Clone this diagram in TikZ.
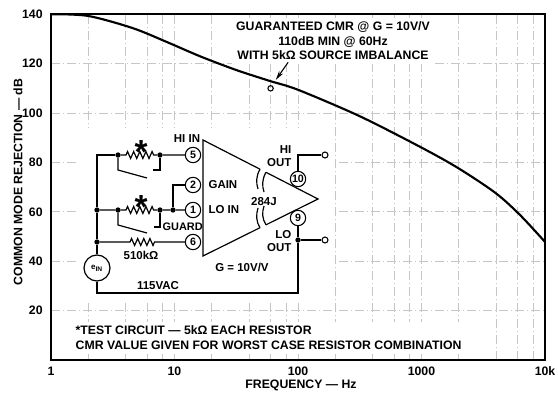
\documentclass[tikz,border=0pt]{standalone}
\usepackage{fontspec}
\setmainfont{Liberation Sans}
\usepackage{tikz}
\usetikzlibrary{arrows.meta,decorations.pathmorphing}
\tikzset{every node/.style={font=\fontsize{9.2}{11}\selectfont\bfseries},
    gridln/.style={gray!45,line width=0.5pt,dash pattern=on 7pt off 2pt on 1pt off 2pt},
    wire/.style={line width=0.9pt},
    zz/.style={decoration={zigzag,segment length=4.6pt,amplitude=2.6pt}},
    dot/.style={circle,fill,inner sep=0pt,minimum size=4pt},
    jack/.style={circle,draw,fill=white,line width=0.8pt,inner sep=0pt,minimum size=4.5pt},
    term/.style={circle,draw,line width=0.8pt,inner sep=0pt,minimum size=11.5pt,
        font=\fontsize{8}{8}\selectfont\bfseries},
    lbl/.style={font=\fontsize{8.6}{9.5}\selectfont\bfseries,inner sep=1pt},
    astx/.style={font=\fontsize{25}{25}\selectfont\bfseries,inner sep=0pt}}

\begin{document}
\begin{tikzpicture}[x=0.75pt,y=-0.75pt]
\useasboundingbox (0,0) rectangle (558,397);

% grid, decades along x, dB along y
\begin{scope}[shift={(51,360)},x=92.625pt,y=1.8525pt]
\foreach \d in {20,40,...,120}
    \draw[gridln] (0,\d) -- (4,\d);
\foreach \dec in {0,1,2,3}
    \foreach \m in {2,4,6,8}
        \draw[gridln] ({\dec+log10(\m)},0) -- ({\dec+log10(\m)},140);
\foreach \dec in {1,2,3}
    \draw[gridln] (\dec,0) -- (\dec,140);
\end{scope}

\fill[white] (78,128) rectangle (334,300);
\node[fill=white,align=center,font=\fontsize{9.2}{10.9}\selectfont\bfseries] (note) at (333,41)
    {GUARANTEED CMR @ G = 10V/V\\110dB MIN @ 60Hz\\WITH 5kΩ SOURCE IMBALANCE};
\node[fill=white,align=left,anchor=west,font=\fontsize{9.2}{11.2}\selectfont\bfseries] (foot) at (71,338)
    {*TEST CIRCUIT — 5kΩ EACH RESISTOR\\CMR VALUE GIVEN FOR WORST CASE RESISTOR COMBINATION};

% curve and frame
\begin{scope}[shift={(51,360)},x=92.625pt,y=1.8525pt]
\draw[line width=1.6pt] plot[smooth,tension=0.5] coordinates {(0,140) (0.3,139.3) (0.66,134.4)
    (0.94,128.7) (1.21,122.9) (1.5,117.4) (1.77,113.0) (2.0,109.4) (2.5,98.7) (3.0,86.0)
    (3.3,77.6) (3.6,67.6) (3.8,58.6) (4,47.8)};
\draw[line width=1.1pt] (0,0) rectangle (4,140);
\foreach \d in {20,40,...,140}
    \node[anchor=east] at (-0.03,\d) {\d};
\foreach \d/\t in {0/1,1/10,2/100,3/1000,4/10k}
    \node at (\d,-4.5) {\t};
\node[circle,draw,line width=0.8pt,inner sep=0pt,minimum size=4pt] (spec) at ({log10(60)},110) {};
\coordinate (tail) at (1.92,120.5);
\coordinate (tip) at (1.82,113.4);
\end{scope}
\draw[line width=0.8pt,-{Stealth[length=7pt,width=3.5pt]}] (tail) -- (tip);

\node[rotate=90] (ytitle) at (18,182) {COMMON MODE REJECTION — dB};
\node (xtitle) at (301,385) {FREQUENCY — Hz};

% amplifier
\draw[wire] (260,169.2) -- (203,140) -- (203,256) -- (260,227.7);
\draw[wire] (266,172.3) -- (318,199) -- (266,224.8);
\draw[wire] (260,169.2) .. controls (256,176) and (256,183) .. (258,189);
\draw[wire] (266,172.3) .. controls (262,179) and (262,186) .. (264,192);
\draw[wire] (258,208) .. controls (256,214) and (256,222) .. (260,227.7);
\draw[wire] (264,206) .. controls (262,212) and (262,219) .. (266,224.8);
\node[lbl] at (264,202) {284J};

% pins
\node[term] (p5) at (193,155) {5};
\node[term] (p2) at (193,185) {2};
\node[term] (p1) at (193,210) {1};
\node[term] (p6) at (193,242) {6};
\node[term] (p10) at (298,179) {10};
\node[term] (p9) at (298,218) {9};
\node[lbl] at (187,139) {HI IN};
\node[lbl,anchor=west] at (207,185) {GAIN};
\node[lbl,anchor=west] at (207,210) {LO IN};
\node[lbl,anchor=west,font=\fontsize{8.2}{9}\selectfont\bfseries] at (161,227) {GUARD};
\node[lbl,align=right,anchor=east] at (293,156) {HI\\OUT};
\node[lbl,align=right,anchor=east] at (293,241) {LO\\OUT};
\node[lbl] at (242,267) {G = 10V/V};
\node[lbl] at (141,255) {510kΩ};
\node[lbl] at (158,286) {115VAC};

% input network
\node[dot] (a1) at (118,155) {};
\node[dot] (b1) at (160,155) {};
\node[dot] (c0) at (97,210) {};
\node[dot] (a2) at (118,210) {};
\node[dot] (b2) at (160,210) {};
\node[dot] (f2) at (173,210) {};
\node[dot] (g0) at (97,242) {};
\node[dot] (lo) at (298,240) {};
\node[jack] (hiout) at (325,155) {};
\node[jack] (loout) at (325,240) {};
\node[circle,draw,line width=0.9pt,minimum size=19.5pt,inner sep=0pt] (ein) at (97,268)
    {\fontsize{6}{6}\selectfont e\textsubscript{IN}};
\node[astx] at (141,152) {*};
\node[astx] at (141,207) {*};
\coordinate (rt) at (298,293);

\draw[wire] (ein.north) -- (g0) -- (c0) -- (97,155) -- (a1);
\draw[wire] (a1) -- (126,155) decorate[zz]{-- (156,155)} -- (b1) -- (p5);
\draw[wire] (a1) -- (118,170) -- (147,178);
\draw[wire] (b1) -- (160,170) -- (153,170);
\draw[wire] (c0) -- (a2) -- (126,210) decorate[zz]{-- (156,210)} -- (b2) -- (f2) -- (p1);
\draw[wire] (a2) -- (118,225) -- (147,233);
\draw[wire] (b2) -- (160,227) -- (154,227);
\draw[wire] (p2) -| (f2);
\draw[wire] (g0) -- (130,242) decorate[zz]{-- (155,242)} -- (p6);
\draw[wire] (ein.south) |- (rt) -- (lo);
\draw[wire] (p9) -- (lo) -- (loout);
\draw[wire] (p10) |- (hiout);
\end{tikzpicture}
\end{document}
